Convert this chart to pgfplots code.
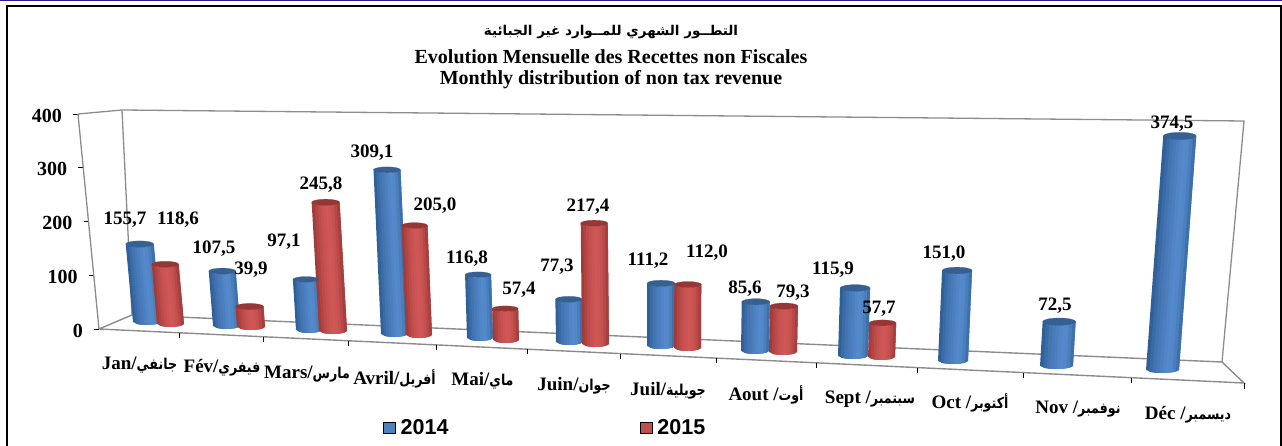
\documentclass[border=0pt]{standalone}
\usepackage{fontspec}
\usepackage{pgfplots}
\pgfplotsset{compat=1.18}
\setmainfont{Liberation Serif}
\setsansfont{Liberation Sans}
\newfontfamily\arabicfont[Script=Arabic]{DejaVu Sans}
\TeXXeTstate=1

% cylinder colours, left to right across the bar
\definecolor{b0}{HTML}{315F97}\definecolor{b1}{HTML}{3A6BA6}\definecolor{b2}{HTML}{4274B1}
\definecolor{b3}{HTML}{4879B8}\definecolor{b4}{HTML}{4C7FBF}\definecolor{b5}{HTML}{5085C6}
\definecolor{b6}{HTML}{5489CB}\definecolor{b7}{HTML}{5287C8}\definecolor{b8}{HTML}{4A7FBD}
\definecolor{b9}{HTML}{3E70AC}\definecolor{bcap}{HTML}{376092}
\definecolor{r0}{HTML}{A23C3A}\definecolor{r1}{HTML}{B04442}\definecolor{r2}{HTML}{BC4B49}
\definecolor{r3}{HTML}{C55150}\definecolor{r4}{HTML}{CC5553}\definecolor{r5}{HTML}{CF5856}
\definecolor{r6}{HTML}{CD5654}\definecolor{r7}{HTML}{C55150}\definecolor{r8}{HTML}{B84947}
\definecolor{r9}{HTML}{A63F3D}\definecolor{rcap}{HTML}{953735}
\definecolor{legb}{HTML}{4F81BD}\definecolor{legr}{HTML}{C0504D}
\definecolor{wall}{HTML}{8C8C8C}\definecolor{strip}{HTML}{2B1B8F}

\newcommand\lab{\fontsize{19}{19}\selectfont\bfseries}
\newcommand\ar[1]{\scalebox{0.84}[1]{\arabicfont\fontsize{15}{15}\selectfont\beginR #1\endR}}
\tikzset{v/.style={font=\lab,yshift=-1.5pt}}

% #1 series (b/r), #2 #3 left and right of the base, #4 floor position, #5 value
\newcommand\cyl[5]{%
  \pgfmathsetmacro\xc{(#2+#3)/2}%
  \pgfmathsetmacro\rx{(#3-#2)/2}%
  \pgfmathsetmacro\ks{0.483+0.000115*\xc}%
  \pgfmathsetmacro\dx{(\xc-660)*0.00009*#5}%
  \pgfmathsetmacro\ytop{#4-\ks*#5}%
  \pgfmathsetmacro\xtop{\xc+\dx}%
  \foreach \n in {0,...,9}{%
    % each band runs on under the next one, so no seams show
    \pgfmathsetmacro\ua{-1+0.2*\n}%
    \pgfmathsetmacro\ub{min(1,\ua+(\n<9?0.4:0.2))}%
    \pgfmathsetmacro\sa{3*sqrt(max(0,1-\ua*\ua))}%
    \pgfmathsetmacro\sb{3*sqrt(max(0,1-\ub*\ub))}%
    \pgfmathsetmacro\xa{\xc+\rx*\ua}%
    \pgfmathsetmacro\xb{\xc+\rx*\ub}%
    \pgfmathsetmacro\xta{\xa+\dx}%
    \pgfmathsetmacro\xtb{\xb+\dx}%
    \pgfmathsetmacro\ya{#4+\sa}%
    \pgfmathsetmacro\yb{#4+\sb}%
    \pgfmathsetmacro\yta{\ytop+\sa}%
    \pgfmathsetmacro\ytb{\ytop+\sb}%
    \edef\cmd{\noexpand\addplot[forget plot,fill=#1\n,draw=none]
      coordinates {(\xa,\ya) (\xb,\yb) (\xtb,\ytb) (\xta,\yta)} --cycle;}\cmd
  }%
  \edef\cmd{\noexpand\addplot[forget plot,only marks,mark=*,mark size=\rx pt,
      mark options={draw=#1cap,line width=0.2pt,fill=#1cap,yscale=0.22}]
      coordinates {(\xtop,\ytop)};}\cmd
}

\begin{document}
\begin{tikzpicture}
\path[use as bounding box] (0,0) rectangle (1282pt,446pt);
\begin{axis}[
  at={(0,0)},anchor=south west,
  width=1282pt,height=446pt,scale only axis,
  xmin=0,xmax=1282,ymin=0,ymax=446,y dir=reverse,
  hide axis,clip=false,
  legend style={at={(axis description cs:0.2988,0.04)},anchor=west,draw=none,fill=none,
    inner sep=0pt,legend columns=2,font=\fontsize{21.5}{21.5}\selectfont\sffamily\bfseries,
    /tikz/column 1/.style={column sep=3.5pt},
    /tikz/column 2/.style={column sep=190pt},
    /tikz/column 3/.style={column sep=3pt}},
  legend image code/.code={\fill[#1] (0pt,-5.5pt) rectangle (11.5pt,5.5pt);},
]
% outer frame
\addplot[forget plot,strip,line width=1.5pt] coordinates {(0,0.7) (1282,0.7)};
\addplot[forget plot,black,line width=2.4pt] coordinates {(7,446) (7,6) (1280.7,6) (1280.7,446)};

% walls and floor
\addplot[forget plot,wall,line width=1.3pt] coordinates {(78,114) (122,110) (1244,121) (1222,362)};
\addplot[forget plot,wall,line width=1.3pt] coordinates {(122,110) (132,315)};
\addplot[forget plot,wall,line width=1.4pt] coordinates {(99,329) (132,315) (1222,362) (1244,383) (99,329)};

% ticks along the floor
\addplot[forget plot,black,line width=0.9pt] coordinates {(179,333) (179,338)};
\addplot[forget plot,black,line width=0.9pt] coordinates {(263,337) (263,342)};
\addplot[forget plot,black,line width=0.9pt] coordinates {(348,341) (348,346)};
\addplot[forget plot,black,line width=0.9pt] coordinates {(436,345) (436,350)};
\addplot[forget plot,black,line width=0.9pt] coordinates {(527,349) (527,354)};
\addplot[forget plot,black,line width=0.9pt] coordinates {(620,354) (620,359)};
\addplot[forget plot,black,line width=0.9pt] coordinates {(716,358) (716,363)};
\addplot[forget plot,black,line width=0.9pt] coordinates {(816,363) (816,368)};
\addplot[forget plot,black,line width=0.9pt] coordinates {(917,368) (917,373)};
\addplot[forget plot,black,line width=0.9pt] coordinates {(1023,373) (1023,378)};
\addplot[forget plot,black,line width=0.9pt] coordinates {(1131,378) (1131,383)};
\addplot[forget plot,black,line width=0.9pt] coordinates {(1244,383) (1244,389)};

% bars: series, base left, base right, floor, value
\cyl{b}{133}{161}{322}{155.7}
\cyl{r}{157}{184}{324}{118.6}
\cyl{b}{213}{240}{326}{107.5}
\cyl{r}{237}{265}{327}{39.9}
\cyl{b}{296}{322}{330}{97.1}
\cyl{r}{319}{347}{331}{245.8}
\cyl{b}{381}{408}{334}{309.1}
\cyl{r}{406}{432}{335}{205.0}
\cyl{b}{467}{493}{338}{116.8}
\cyl{r}{493}{519}{340}{57.4}
\cyl{b}{556}{583}{342}{77.3}
\cyl{r}{582}{609}{344}{217.4}
\cyl{b}{647}{675}{346}{111.2}
\cyl{r}{674}{701}{348}{112.0}
\cyl{b}{741}{769}{351}{85.6}
\cyl{r}{769}{797}{352}{79.3}
\cyl{b}{838}{868}{356}{115.9}
\cyl{r}{868}{895}{357}{57.7}
\cyl{b}{938}{968}{361}{151.0}
\cyl{b}{1040}{1073}{366}{72.5}
\cyl{b}{1146}{1179}{370}{374.5}

% value labels
\node[v] at (axis cs:125,218) {155,7};
\node[v] at (axis cs:178,218) {118,6};
\node[v] at (axis cs:214,247) {107,5};
\node[v] at (axis cs:251,268) {39,9};
\node[v] at (axis cs:284,240) {97,1};
\node[v] at (axis cs:321,183) {245,8};
\node[v] at (axis cs:372,151) {309,1};
\node[v] at (axis cs:435,204) {205,0};
\node[v] at (axis cs:467,257) {116,8};
\node[v] at (axis cs:519,288) {57,4};
\node[v] at (axis cs:557,265) {77,3};
\node[v] at (axis cs:588,205) {217,4};
\node[v] at (axis cs:648,259) {111,2};
\node[v] at (axis cs:707,251) {112,0};
\node[v] at (axis cs:745,287) {85,6};
\node[v] at (axis cs:793,291) {79,3};
\node[v] at (axis cs:833,268) {115,9};
\node[v] at (axis cs:879,307) {57,7};
\node[v] at (axis cs:944,252) {151,0};
\node[v] at (axis cs:1055,304) {72,5};
\node[v] at (axis cs:1172,122) {374,5};

% month names
\node[v] at (axis cs:139.5,364) {Jan/\ar{جانفي}};
\node[v] at (axis cs:222,366) {Fév/\ar{فيفري}};
\node[v] at (axis cs:307,373) {Mars/\ar{مارس}};
\node[v] at (axis cs:394.5,377) {Avril/\ar{أفريل}};
\node[v] at (axis cs:482.5,379) {Mai/\ar{ماي}};
\node[v] at (axis cs:574,384) {Juin/\ar{جوان}};
\node[v] at (axis cs:668,389) {Juil/\ar{جويلية}};
\node[v] at (axis cs:766,393) {Aout /\ar{أوت}};
\node[v] at (axis cs:870,398) {Sept /\ar{سبتمبر}};
\node[v] at (axis cs:970,401) {Oct /\ar{أكتوبر}};
\node[v] at (axis cs:1078,408) {Nov /\ar{نوفمبر}};
\node[v] at (axis cs:1188,413) {Déc /\ar{ديسمبر}};

% title
\node[font=\arabicfont\fontsize{13.5}{14}\selectfont\bfseries] at (axis cs:611,32.5) {\beginR التطــور الشهري  للمــوارد غير الجبائية\endR};
\node[font=\fontsize{20}{20}\selectfont\bfseries] at (axis cs:611,57) {Evolution Mensuelle des Recettes non Fiscales};
\node[font=\fontsize{20}{20}\selectfont\bfseries] at (axis cs:611,80) {Monthly distribution of non tax revenue};

\addlegendimage{fill=legb}\addlegendentry{2014}
\addlegendimage{fill=legr}\addlegendentry{2015}
\end{axis}

% value axis, leaning like the chart's left wall
\begin{axis}[
  at={(99pt,117pt)},anchor=origin,
  x={(1pt,0pt)},y={(-0.0525pt,0.5375pt)},
  xmin=0,xmax=1,ymin=0,ymax=400,
  hide x axis,axis y line*=left,
  axis line style={wall,line width=1.3pt,-},
  ytick={0,100,200,300,400},
  tick align=outside,major tick length=5pt,
  tick style={black,line width=0.9pt},
  yticklabel style={font=\fontsize{20}{20}\selectfont\bfseries,/pgf/number format/assume math mode=true,inner sep=0pt,xshift=-11pt,yshift=-1.5pt},
]
\end{axis}
\end{tikzpicture}
\end{document}
